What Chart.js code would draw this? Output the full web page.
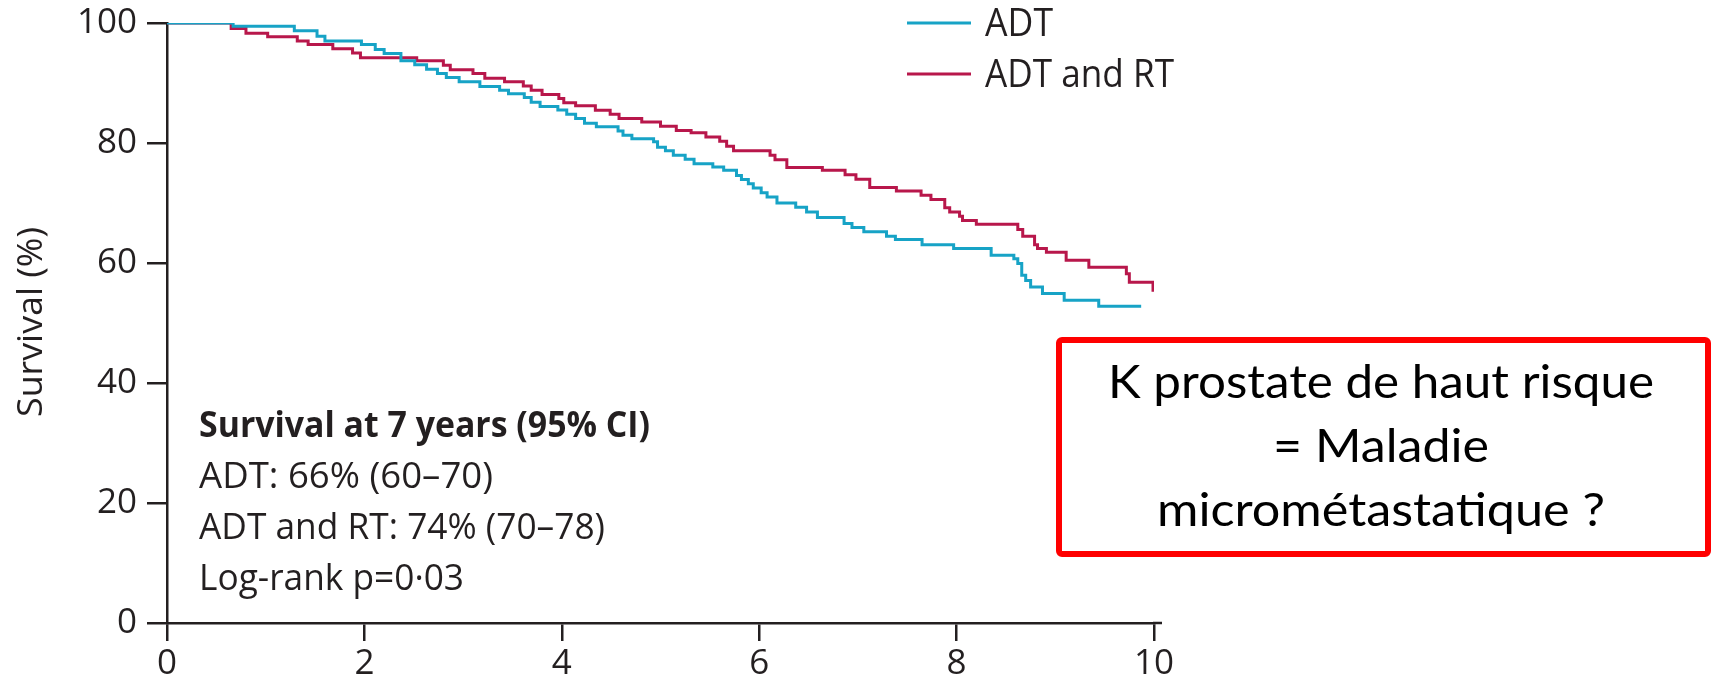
<!DOCTYPE html>
<html>
<head>
<meta charset="utf-8">
<script src="https://cdn.jsdelivr.net/npm/chart.js@4.4.1/dist/chart.umd.min.js"></script>
<style>
  html, body { margin: 0; padding: 0; background: #fff; }
  #wrap { width: 1714px; height: 680px; }
</style>
</head>
<body>
<div id="wrap"><canvas id="kmChart" width="1714" height="680"></canvas></div>
<script>
// Kaplan-Meier steps: time (years) of each drop and survival (%) after it
const adtTime = [0, 0.67, 1.29, 1.52, 1.60, 1.97, 2.11, 2.20, 2.37, 2.51, 2.63, 2.74, 2.83, 2.96,
  3.17, 3.37, 3.46, 3.62, 3.69, 3.78, 3.96, 4.05, 4.14, 4.23, 4.35, 4.57, 4.62, 4.71, 4.93, 4.97,
  5.05, 5.13, 5.25, 5.34, 5.53, 5.64, 5.77, 5.82, 5.89, 5.94, 6.02, 6.08, 6.18, 6.37, 6.48, 6.59,
  6.86, 6.94, 7.06, 7.29, 7.38, 7.65, 7.97, 8.35, 8.58, 8.62, 8.66, 8.70, 8.75, 8.87, 9.09, 9.44, 9.87];
const adtSurv = [100, 99.45, 98.7, 97.8, 97.0, 96.4, 95.6, 94.9, 93.7, 93.05, 92.3, 91.6, 90.9, 90.2,
  89.4, 88.8, 88.2, 87.6, 86.8, 86.1, 85.5, 84.8, 84.1, 83.3, 82.7, 82.0, 81.3, 80.7, 80.2, 79.3,
  78.7, 77.95, 77.3, 76.55, 76.0, 75.45, 74.6, 73.9, 73.2, 72.5, 71.7, 71.0, 70.0, 69.3, 68.5, 67.6,
  66.6, 65.9, 65.2, 64.45, 63.9, 63.05, 62.4, 61.3, 60.7, 59.9, 57.95, 57.1, 56.0, 54.9, 53.8, 52.8, 52.8];

const rtTime = [0, 0.65, 0.80, 1.02, 1.32, 1.43, 1.68, 1.88, 1.96, 2.53, 2.80, 2.87, 3.10, 3.22,
  3.42, 3.61, 3.69, 3.80, 3.97, 4.02, 4.14, 4.34, 4.49, 4.58, 4.81, 5.00, 5.16, 5.31, 5.46, 5.60,
  5.67, 5.74, 6.11, 6.16, 6.28, 6.64, 6.87, 6.98, 7.12, 7.39, 7.64, 7.74, 7.88, 7.93, 8.03, 8.06,
  8.20, 8.62, 8.67, 8.79, 8.82, 8.91, 9.11, 9.34, 9.72, 9.75, 9.99];
const rtSurv = [100, 99.07, 98.3, 97.7, 97.0, 96.4, 95.7, 95.0, 94.2, 93.7, 92.95, 92.2, 91.6, 90.8,
  90.2, 89.5, 88.8, 88.1, 87.4, 86.7, 86.2, 85.45, 84.8, 84.1, 83.5, 82.8, 82.1, 81.7, 81.0, 80.3,
  79.45, 78.7, 77.95, 77.2, 75.9, 75.45, 74.7, 73.95, 72.6, 72.0, 71.3, 70.6, 69.2, 68.5, 67.8, 67.1,
  66.45, 65.6, 64.45, 63.05, 62.4, 61.8, 60.45, 59.3, 58.2, 56.8, 55.2];

const seriesNames = ['ADT', 'ADT and RT'];
const seriesColors = ['#17a3c6', '#b8174b'];
const yTitle = 'Survival (%)';
const statLines = ['Survival at 7 years (95% CI)', 'ADT: 66% (60–70)', 'ADT and RT: 74% (70–78)', 'Log-rank p=0·03'];
const boxLines = ['K prostate de haut risque', '= Maladie', 'micrométastatique ?'];

const ink = '#231f20';
const baseFont = '"Open Sans", "DejaVu Sans", sans-serif';

function toPoints(times, values) {
  return times.map((t, i) => ({ x: t, y: values[i] }));
}

// draw text squeezed/stretched horizontally to a given width
function fitText(ctx, text, left, baseline, width, font) {
  ctx.save();
  ctx.font = font;
  ctx.textAlign = 'left';
  ctx.textBaseline = 'alphabetic';
  const w = ctx.measureText(text).width;
  ctx.translate(left, baseline);
  ctx.scale(width / w, 1);
  ctx.fillText(text, 0, 0);
  ctx.restore();
}

const extras = {
  id: 'extras',
  afterDraw(chart) {
    const ctx = chart.ctx;
    const area = chart.chartArea;
    ctx.save();

    // x axis runs on a little past the last tick
    ctx.strokeStyle = ink;
    ctx.lineWidth = 2.5;
    ctx.beginPath();
    ctx.moveTo(area.right - 1, area.bottom);
    ctx.lineTo(area.right + 8, area.bottom);
    ctx.stroke();

    // legend
    const legendY = [23, 74];
    const legendW = [68, 189];
    seriesNames.forEach((name, i) => {
      ctx.strokeStyle = seriesColors[i];
      ctx.lineWidth = 3;
      ctx.beginPath();
      ctx.moveTo(907, legendY[i]);
      ctx.lineTo(971, legendY[i]);
      ctx.stroke();
      ctx.fillStyle = ink;
      fitText(ctx, name, 985, legendY[i] + 13, legendW[i], '39px ' + baseFont);
    });

    // y axis title
    ctx.save();
    ctx.translate(42, 417);
    ctx.rotate(-Math.PI / 2);
    ctx.fillStyle = ink;
    fitText(ctx, yTitle, 0, 0, 190, '35px ' + baseFont);
    ctx.restore();

    // survival summary
    const statW = [451, 294, 406, 265];
    statLines.forEach((line, i) => {
      const font = (i === 0 ? 'bold ' : '') + '36px ' + baseFont;
      ctx.fillStyle = ink;
      fitText(ctx, line, 199, 437 + i * 51, statW[i], font);
    });

    // red box
    ctx.strokeStyle = '#ff0000';
    ctx.lineWidth = 6;
    ctx.beginPath();
    ctx.roundRect(1059, 340, 649, 214, 3);
    ctx.stroke();
    const boxW = [546, 216, 448];
    boxLines.forEach((line, i) => {
      ctx.fillStyle = '#000';
      fitText(ctx, line, 1381 - boxW[i] / 2, 398 + i * 64, boxW[i], '46px Lato, ' + baseFont);
    });

    ctx.restore();
  }
};

const ctx = document.getElementById('kmChart').getContext('2d');
new Chart(ctx, {
  type: 'scatter',
  data: {
    datasets: [
      {
        label: seriesNames[0],
        data: toPoints(adtTime, adtSurv),
        borderColor: seriesColors[0],
        showLine: true,
        stepped: 'before',
        borderWidth: 3,
        pointRadius: 0
      },
      {
        label: seriesNames[1],
        data: toPoints(rtTime, rtSurv),
        borderColor: seriesColors[1],
        showLine: true,
        stepped: 'before',
        borderWidth: 3,
        pointRadius: 0
      }
    ]
  },
  options: {
    responsive: false,
    devicePixelRatio: 1,
    animation: false,
    layout: { padding: { top: 23, right: 560, left: 0, bottom: 0 } },
    plugins: { legend: { display: false }, tooltip: { enabled: false } },
    scales: {
      x: {
        type: 'linear',
        min: 0,
        max: 10,
        afterFit: (s) => { s.height = 57; s.paddingLeft = 0; s.paddingRight = 0; },
        border: { display: true, color: ink, width: 2.5 },
        grid: { drawOnChartArea: false, drawTicks: true, tickLength: 18, color: ink, lineWidth: 2.5 },
        ticks: { stepSize: 2, color: ink, padding: 2, font: { family: baseFont, size: 35 } }
      },
      y: {
        min: 0,
        max: 100,
        afterFit: (s) => { s.width = 167; s.paddingTop = 0; s.paddingBottom = 0; },
        border: { display: true, color: ink, width: 2.5 },
        grid: { drawOnChartArea: false, drawTicks: true, tickLength: 20, color: ink, lineWidth: 2.5 },
        ticks: { stepSize: 20, color: ink, padding: 10, font: { family: baseFont, size: 35 } }
      }
    }
  },
  plugins: [extras]
});
</script>
</body>
</html>
